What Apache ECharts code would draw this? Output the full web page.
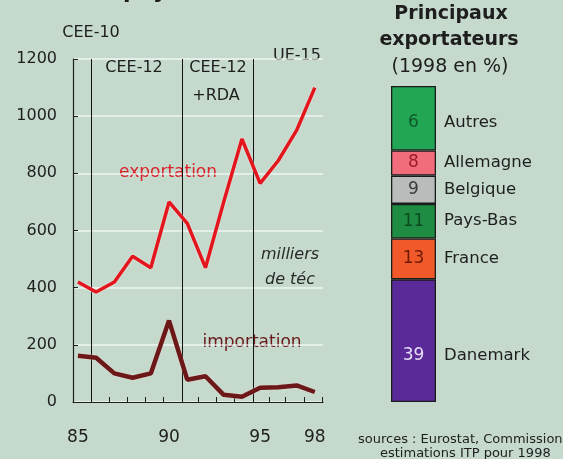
<!DOCTYPE html>
<html>
<head>
<meta charset="utf-8">
<script src="https://cdn.jsdelivr.net/npm/echarts@6/dist/echarts.min.js"></script>
<style>
html,body{margin:0;padding:0;background:#c5dacd;}
#c{width:563px;height:459px;}
</style>
</head>
<body>
<div id="c"></div>
<script>
// ---- data ----
var years = [1985,1986,1987,1988,1989,1990,1991,1992,1993,1994,1995,1996,1997,1998];
var exportation = [420,385,420,510,470,700,625,470,700,920,765,845,950,1100];
var importation = [162,155,100,85,100,285,78,90,25,18,50,52,58,35];
var yTicks = [0,200,400,600,800,1000,1200];
var xLabels = [1985,1990,1995,1998];
var xTicks = [1985.75,1986.7,1987.7,1988.7,1989.7,1990.7,1991.6,1992.6,1993.6,1994.6,1995.5,1996.4,1997.4,1998.4];
var periodLines = [1985.75,1990.7,1994.6];

// stacked bar (bottom to top)
var exporters = ['Danemark','France','Pays-Bas','Belgique','Allemagne','Autres'];
var exporterShare = [39,13,11,9,8,20.5];       // segment heights as drawn
var exporterLabel = ['39','13','11','9','8','6']; // printed numbers
var exporterColor = ['#5a2b98','#f1592a','#1f8c43','#b9bcba','#f26d7c','#22a653'];
var exporterTextColor = ['#e6def5','#6a1a05','#0c4a20','#3a3a3a','#9a1c28','#0d5a2b'];

var total = exporterShare.reduce(function(a,b){return a+b;},0);
var FONT = 'DejaVu Sans';

var chart = echarts.init(document.getElementById('c'));

var barSeries = exporters.map(function(name,i){
  return {
    type:'bar', name:name, stack:'s', xAxisIndex:1, yAxisIndex:1,
    barWidth:'100%',
    data:[exporterShare[i]],
    itemStyle:{color:exporterColor[i], borderColor:'#1b1b1b', borderWidth:1.3},
    label:{
      show:true, position:'insideLeft', distance:0,
      offset: name==='Danemark'?[0,15]:(name==='Autres'?[0,4]:[0,0]),
      formatter:'{n|'+exporterLabel[i]+'}{t|'+name+'}',
      rich:{
        n:{width:45, align:'center', color:exporterTextColor[i], fontSize:17, fontFamily:FONT},
        t:{color:'#1e1e1e', fontSize:16.5, fontFamily:FONT, padding:[0,0,0,8]}
      }
    }
  };
});

var option = {
  backgroundColor:'#c5dacd',
  animation:false,
  grid:[
    {left:73, right:240, top:59, bottom:57},
    {left:391, width:45, top:86, bottom:57}
  ],
  xAxis:[
    {type:'value', gridIndex:0, min:1984.73, max:1998.45,
     axisLine:{show:true, lineStyle:{color:'#1e1e1e', width:1.2}},
     axisTick:{show:true, inside:true, length:5, customValues:xTicks, lineStyle:{color:'#1e1e1e'}},
     axisLabel:{customValues:xLabels, margin:27, fontSize:17, fontFamily:FONT, color:'#1e1e1e',
       formatter:function(v){return String(v).slice(2);}},
     splitLine:{show:false}
    },
    {type:'category', gridIndex:1, data:['1998'], show:false}
  ],
  yAxis:[
    {type:'value', gridIndex:0, min:0, max:1200, interval:200,
     axisLine:{show:true, lineStyle:{color:'#1e1e1e', width:1.2}},
     axisTick:{show:true, inside:true, length:5, lineStyle:{color:'#1e1e1e'}},
     axisLabel:{margin:16, fontSize:16, fontFamily:FONT, color:'#1e1e1e', customValues:yTicks,
       formatter:function(v){return String(v);}},
     splitLine:{show:true, lineStyle:{color:'rgba(255,255,255,0.75)', width:1.5}}
    },
    {type:'value', gridIndex:1, min:0, max:total, show:false}
  ],
  series:[
    {type:'line', name:'exportation', xAxisIndex:0, yAxisIndex:0,
     data:years.map(function(y,i){return [y,exportation[i]];}),
     symbol:'none', z:5,
     lineStyle:{color:'#e3161d', width:3.5, shadowColor:'rgba(255,235,235,0.8)', shadowBlur:2},
     markLine:{symbol:'none', silent:true, label:{show:false},
       lineStyle:{color:'#111', width:1, type:'solid'},
       data:periodLines.map(function(v){return {xAxis:v};})}
    },
    {type:'line', name:'importation', xAxisIndex:0, yAxisIndex:0,
     data:years.map(function(y,i){return [y,importation[i]];}),
     symbol:'none', z:5,
     lineStyle:{color:'#6c1718', width:4.5, shadowColor:'rgba(255,220,220,0.6)', shadowBlur:2}
    }
  ].concat(barSeries),
  graphic:[
    {type:'text', left:15, top:-19, style:{text:'avec les pays tiers', font:'bold 22px '+FONT, fill:'#1a1a1a'}},
    {type:'text', x:91, y:33, style:{text:'CEE-10', font:'16px '+FONT, fill:'#1e1e1e', align:'center', verticalAlign:'middle'}},
    {type:'text', x:134, y:68, style:{text:'CEE-12', font:'16px '+FONT, fill:'#1e1e1e', align:'center', verticalAlign:'middle'}},
    {type:'text', x:218, y:68, style:{text:'CEE-12', font:'16px '+FONT, fill:'#1e1e1e', align:'center', verticalAlign:'middle'}},
    {type:'text', x:216, y:96, style:{text:'+RDA', font:'16px '+FONT, fill:'#1e1e1e', align:'center', verticalAlign:'middle'}},
    {type:'text', x:297, y:56, style:{text:'UE-15', font:'16px '+FONT, fill:'#1e1e1e', align:'center', verticalAlign:'middle'}},
    {type:'text', x:168, y:173, style:{text:'exportation', font:'17px '+FONT, fill:'#d9222a', align:'center', verticalAlign:'middle'}},
    {type:'text', x:252, y:343, style:{text:'importation', font:'17px '+FONT, fill:'#6a1819', align:'center', verticalAlign:'middle'}},
    {type:'text', x:290, y:255, style:{text:'milliers', font:'italic 16px '+FONT, fill:'#2a2a2a', align:'center', verticalAlign:'middle'}},
    {type:'text', x:290, y:280, style:{text:'de téc', font:'italic 16px '+FONT, fill:'#2a2a2a', align:'center', verticalAlign:'middle'}},
    {type:'text', x:451, y:14, style:{text:'Principaux', font:'bold 19px '+FONT, fill:'#1e1e1e', align:'center', verticalAlign:'middle'}},
    {type:'text', x:449, y:40, style:{text:'exportateurs', font:'bold 19px '+FONT, fill:'#1e1e1e', align:'center', verticalAlign:'middle'}},
    {type:'text', x:450, y:67, style:{text:'(1998 en %)', font:'19px '+FONT, fill:'#1e1e1e', align:'center', verticalAlign:'middle'}},
    {type:'text', x:358, y:440, style:{text:'sources : Eurostat, Commission,', font:'13px '+FONT, fill:'#1e1e1e', verticalAlign:'middle'}},
    {type:'text', x:380, y:454, style:{text:'estimations ITP pour 1998', font:'13px '+FONT, fill:'#1e1e1e', verticalAlign:'middle'}}
  ]
};
chart.setOption(option);
</script>
</body>
</html>
